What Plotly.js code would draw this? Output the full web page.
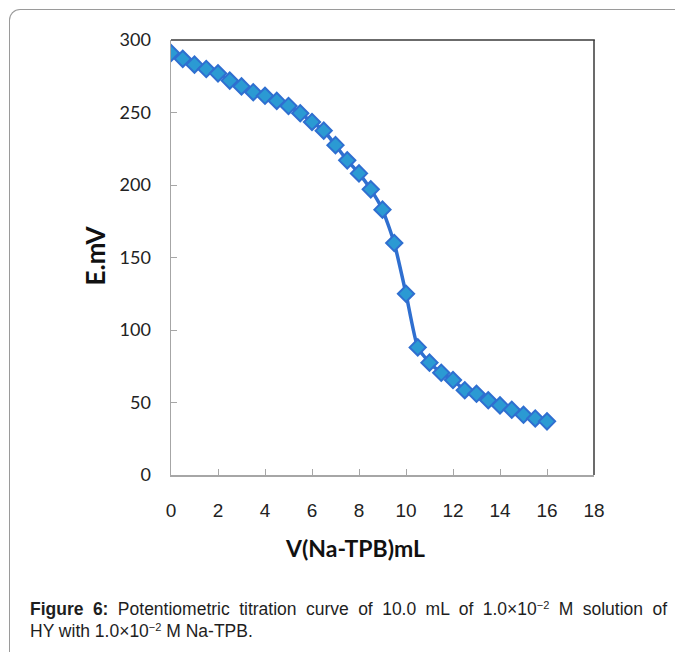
<!DOCTYPE html>
<html>
<head>
<meta charset="utf-8">
<script src="https://cdn.plot.ly/plotly-3.0.1.min.js"></script>
<style>
  html, body { margin: 0; padding: 0; background: #fff; }
  #wrap { position: relative; width: 675px; height: 655px; overflow: hidden; }
  #frame { position: absolute; left: 9px; top: 9px; width: 700px; height: 643px;
           border-top: 1.5px solid #9a9a9a; border-left: 1.5px solid #9a9a9a;
           border-top-left-radius: 11px; box-sizing: border-box; }
  #chart { position: absolute; left: 0; top: 0; width: 675px; height: 655px; }
  #caption { position: absolute; left: 30px; top: 598px; width: 637px;
             font-family: "Liberation Sans", Arial, sans-serif; font-size: 17.5px;
             line-height: 22px; color: #1e1e1e; }
  #caption .l1 { text-align: justify; text-align-last: justify; }
  #caption sup { font-size: 11px; vertical-align: 6px; line-height: 0; }
</style>
</head>
<body>
<div id="wrap">
  <div id="frame"></div>
  <div id="chart"></div>
  <div id="caption"></div>
</div>
<script>
// Data
const volumeML = [0, 0.5, 1, 1.5, 2, 2.5, 3, 3.5, 4, 4.5, 5, 5.5, 6, 6.5, 7, 7.5, 8, 8.5, 9, 9.5, 10, 10.5, 11, 11.5, 12, 12.5, 13, 13.5, 14, 14.5, 15, 15.5, 16];
const emfMV = [291, 287, 283, 280, 277, 272, 268, 264, 261.5, 258, 254.5, 249.5, 243.5, 237.5, 227.5, 217, 208, 197, 183, 160, 125, 88, 77.5, 70.5, 65.5, 58.5, 56, 51.5, 48, 45, 41.5, 39, 37];
const xTickVals = [0, 2, 4, 6, 8, 10, 12, 14, 16, 18];
const yTickVals = [0, 50, 100, 150, 200, 250, 300];
const xTitle = "V(Na-TPB)mL";
const yTitle = "E.mV";
const captionLine1 = "<b>Figure 6:</b> Potentiometric titration curve of 10.0 mL of 1.0×10<sup>−2</sup> M solution of";
const captionLine2 = "HY with 1.0×10<sup>−2</sup> M Na-TPB.";

document.getElementById('caption').innerHTML =
  '<div class="l1">' + captionLine1 + '</div><div class="l2">' + captionLine2 + '</div>';

const sansX = '"Liberation Sans", Arial, sans-serif';
const sansY = 'Lato, "Open Sans", sans-serif';

const trace = {
  x: volumeML,
  y: emfMV,
  type: 'scatter',
  mode: 'lines+markers',
  line: { color: '#2F6FD0', width: 3.5, shape: 'spline', smoothing: 0.5 },
  marker: { symbol: 'diamond', size: 12.5, color: '#2B9AD3', line: { color: '#2F6FD0', width: 2 } },
  hoverinfo: 'x+y'
};

const layout = {
  width: 675, height: 655,
  margin: { l: 171, r: 81, t: 40, b: 180, pad: 0 },
  paper_bgcolor: 'rgba(0,0,0,0)',
  plot_bgcolor: 'rgba(0,0,0,0)',
  showlegend: false,
  xaxis: {
    range: [0, 18], tickvals: xTickVals, ticktext: xTickVals.map(String),
    showgrid: false, zeroline: false,
    showline: true, linecolor: '#a6a6a6', linewidth: 1.5,
    ticks: 'inside', ticklen: 6, tickcolor: '#a6a6a6', tickwidth: 1,
    ticklabelstandoff: 18,
    tickfont: { family: sansX, size: 19, color: '#222' }
  },
  yaxis: {
    range: [0, 300], tickvals: yTickVals, ticktext: yTickVals.map(String),
    showgrid: false, zeroline: false,
    showline: true, linecolor: '#a6a6a6', linewidth: 1.5,
    ticks: 'inside', ticklen: 6, tickcolor: '#a6a6a6', tickwidth: 1,
    ticklabelstandoff: 15,
    tickfont: { family: sansY, size: 18, color: '#222' }
  },
  shapes: [
    { type: 'line', xref: 'paper', yref: 'paper', x0: 0, x1: 1.002, y0: 1, y1: 1, line: { color: '#3a3a3a', width: 1.5 } },
    { type: 'line', xref: 'paper', yref: 'paper', x0: 1, x1: 1, y0: 0, y1: 1, line: { color: '#3a3a3a', width: 1.5 } }
  ],
  annotations: [
    { text: '<b>' + xTitle + '</b>', xref: 'paper', yref: 'paper', x: 0.435, y: 0, yshift: -73,
      xanchor: 'center', yanchor: 'middle', showarrow: false,
      font: { family: sansY, size: 23, color: '#111' } },
    { text: '<b>' + yTitle + '</b>', xref: 'paper', yref: 'paper', x: -0.1797, y: 0.5, yshift: 2,
      xanchor: 'center', yanchor: 'middle', textangle: -90, showarrow: false,
      font: { family: sansY, size: 26, color: '#111' } }
  ]
};

Plotly.newPlot('chart', [trace], layout, { displayModeBar: false, staticPlot: true });
</script>
</body>
</html>
